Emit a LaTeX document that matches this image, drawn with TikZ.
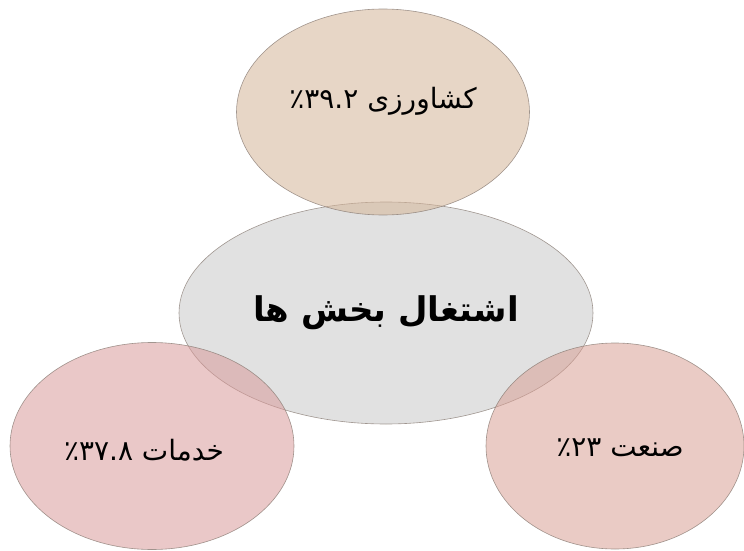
\documentclass[tikz,border=0pt]{standalone}
\usepackage{fontspec}
\newfontfamily\arabicfont[Script=Arabic]{DejaVu Sans}
\TeXXeTstate=1
\usetikzlibrary{shapes.geometric, positioning, calc}

\definecolor{edgecol}{HTML}{857870}
\definecolor{ctrcol}{HTML}{C4C4C4}
\definecolor{agricol}{HTML}{D4B598}
\definecolor{servcol}{HTML}{D99A9A}
\definecolor{indcol}{HTML}{D9A095}

\tikzset{
  sector/.style={ellipse, draw=edgecol, draw opacity=0.75, line width=0.6pt,
    fill opacity=0.55, inner sep=0pt},
  pct/.style={font=\arabicfont\fontsize{28}{32}\selectfont},
  title/.style={font=\arabicfont\bfseries\fontsize{34}{40}\selectfont},
}

\begin{document}
\begin{tikzpicture}[x=1pt,y=1pt]
  \useasboundingbox (0,0) rectangle (744,550);

  % the four sectors
  \node[sector, fill=ctrcol, fill opacity=0.5, minimum width=414pt, minimum height=222pt] (ctr) at (386,237) {};
  \node[sector, fill=agricol, minimum width=293pt, minimum height=206pt] (agri) at (383,438) {};
  \node[sector, fill=servcol, minimum width=284pt, minimum height=207pt] (serv) at (152,104) {};
  \node[sector, fill=indcol, minimum width=258pt, minimum height=206pt] (ind) at (615,104) {};

  % labels
  \node[title] (ctrtxt) at ([yshift=0pt]ctr.center) {\beginR اشتغال بخش ها\endR};
  \node[pct] (agritxt) at ([yshift=11pt]agri.center) {\beginR کشاورزی \beginL٪۳۹.۲\endL{}\endR};
  \node[pct] (servtxt) at ([xshift=-8pt,yshift=-4pt]serv.center) {\beginR خدمات \beginL٪۳۷.۸\endL{}\endR};
  \node[pct] (indtxt) at ([xshift=5pt,yshift=-2pt]ind.center) {\beginR صنعت \beginL٪۲۳\endL{}\endR};
\end{tikzpicture}
\end{document}
